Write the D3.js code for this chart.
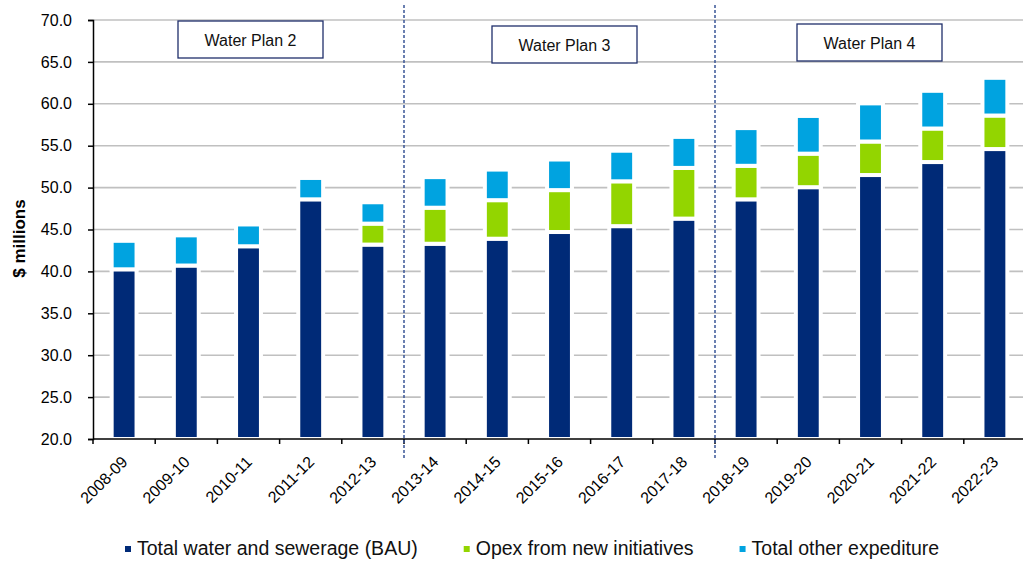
<!DOCTYPE html>
<html>
<head>
<meta charset="utf-8">
<script src="https://cdn.jsdelivr.net/npm/d3@7"></script>
<style>
  html, body { margin: 0; padding: 0; background: #fff; }
  svg { display: block; font-family: "Liberation Sans", Arial, sans-serif; }
</style>
</head>
<body>
<svg id="chart" width="1023" height="561"></svg>
<script>
// Financial years
const categories = ["2008-09", "2009-10", "2010-11", "2011-12", "2012-13",
  "2013-14", "2014-15", "2015-16", "2016-17", "2017-18",
  "2018-19", "2019-20", "2020-21", "2021-22", "2022-23"];

// $ millions per year, stacked bottom to top
const bauValues   = [40.25, 40.7, 43.0, 48.6, 43.2, 43.3, 43.9, 44.7, 45.4, 46.3, 48.6, 50.05, 51.5, 53.05, 54.6];
const opexValues  = [0, 0, 0, 0, 2.5, 4.3, 4.6, 5.0, 5.35, 6.05, 4.0, 4.0, 4.0, 4.0, 4.0];
const otherValues = [3.4, 3.6, 2.6, 2.55, 2.55, 3.65, 3.65, 3.65, 3.65, 3.7, 4.5, 4.5, 4.55, 4.5, 4.5];

const seriesNames = ["Total water and sewerage (BAU)", "Opex from new initiatives", "Total other expediture"];
const yTicks = [20, 25, 30, 35, 40, 45, 50, 55, 60, 65, 70];

// Planning periods: label, first year, last year
const planNames = ["Water Plan 2", "Water Plan 3", "Water Plan 4"];
const planFirst = ["2008-09", "2013-14", "2018-19"];
const planLast  = ["2012-13", "2017-18", "2022-23"];

const colors = ["#002A77", "#93D500", "#00A3E0"];

const svg = d3.select("#chart");
const plot = { left: 93, right: 1026, top: 20, bottom: 439 };

const x = d3.scaleBand().domain(categories).range([plot.left, plot.right])
  .paddingInner(0.6).paddingOuter(0.3);
// Axis starts at 20, so the stack base is clamped to the bottom of the plot
const y = d3.scaleLinear().domain([20, 70]).range([plot.bottom, plot.top]).clamp(true);
const halfGap = (x.step() - x.bandwidth()) / 2;

// Gridlines
svg.append("g").selectAll("line").data(yTicks.filter(t => t > 20)).join("line")
  .attr("x1", plot.left).attr("x2", plot.right)
  .attr("y1", d => y(d)).attr("y2", d => y(d))
  .attr("stroke", "#C0C0C0").attr("stroke-width", 1.6);

// Stack the three series
const rows = categories.map((c, i) => ({ cat: c, s0: bauValues[i], s1: opexValues[i], s2: otherValues[i] }));
const stacked = d3.stack().keys(["s0", "s1", "s2"])(rows);

svg.append("g").selectAll("g").data(stacked).join("g")
  .attr("fill", (d, i) => colors[i])
  .selectAll("rect").data(d => d.filter(p => p[1] - p[0] > 0)).join("rect")
  .attr("x", d => x(d.data.cat))
  .attr("width", x.bandwidth())
  .attr("y", d => y(d[1]))
  .attr("height", d => y(d[0]) - y(d[1]))
  .attr("stroke", "#fff").attr("stroke-width", 4);

// Y axis
const yAxis = d3.axisLeft(y).tickValues(yTicks).tickFormat(d3.format(".1f"))
  .tickSize(5).tickPadding(16);
const yg = svg.append("g").attr("transform", `translate(${plot.left},0)`).call(yAxis);
yg.select(".domain").attr("stroke", "#000").attr("stroke-width", 1.5);
yg.selectAll(".tick line").attr("stroke", "#000").attr("stroke-width", 1.5);
yg.selectAll(".tick text").attr("font-size", 16).attr("fill", "#000")
  .attr("font-family", "Liberation Sans, Arial, sans-serif");

// X axis line and boundary ticks
const xg = svg.append("g");
xg.append("line").attr("x1", plot.left).attr("x2", plot.right)
  .attr("y1", plot.bottom).attr("y2", plot.bottom)
  .attr("stroke", "#000").attr("stroke-width", 1.5);
xg.selectAll("line.tk").data(categories).join("line").attr("class", "tk")
  .attr("x1", d => x(d) - halfGap).attr("x2", d => x(d) - halfGap)
  .attr("y1", plot.bottom).attr("y2", plot.bottom + 5)
  .attr("stroke", "#000").attr("stroke-width", 1.5);
xg.selectAll("text").data(categories).join("text")
  .attr("transform", d => `translate(${x(d) + x.bandwidth() / 2 + 4.5},${plot.bottom + 24}) rotate(-45)`)
  .attr("text-anchor", "end").attr("font-size", 16).attr("fill", "#000")
  .text(d => d);

// Y axis title
svg.append("text")
  .attr("transform", `translate(25,${(plot.top + plot.bottom) / 2 + 9}) rotate(-90)`)
  .attr("text-anchor", "middle").attr("font-size", 17).attr("font-weight", "bold")
  .text("$ millions");

// Dashed dividers between planning periods
const dividers = planFirst.slice(1).map(c => x(c) - halfGap);
svg.append("g").selectAll("line").data(dividers).join("line")
  .attr("x1", d => d).attr("x2", d => d)
  .attr("y1", 5).attr("y2", 458)
  .attr("stroke", "#3A5597").attr("stroke-width", 1.5)
  .attr("stroke-dasharray", "3,2");

// Period label boxes
const boxW = 145, boxH = 37;
const boxTop = [21, 26, 24];
const boxShift = [2, 5, -1];
const boxes = svg.append("g").selectAll("g").data(planNames).join("g")
  .attr("transform", (d, i) => {
    const a = x(planFirst[i]), b = x(planLast[i]) + x.bandwidth();
    const cx = (a + b) / 2 + boxShift[i];
    return `translate(${cx - boxW / 2},${boxTop[i]})`;
  });
boxes.append("rect").attr("width", boxW).attr("height", boxH)
  .attr("fill", "#fff").attr("stroke", "#1F2E6B").attr("stroke-width", 1.3);
boxes.append("text").attr("x", boxW / 2).attr("y", boxH / 2 + 6)
  .attr("text-anchor", "middle").attr("font-size", 16).attr("fill", "#111")
  .text(d => d);

// Legend
const legend = svg.append("g").attr("transform", "translate(125,555)");
let lx = 0;
seriesNames.forEach((name, i) => {
  const g = legend.append("g").attr("transform", `translate(${lx},0)`);
  g.append("rect").attr("x", 0).attr("y", -9).attr("width", 6).attr("height", 6).attr("fill", colors[i]);
  const t = g.append("text").attr("x", 12).attr("y", 0).attr("font-size", 19.5).attr("fill", "#111").text(name);
  lx += 12 + t.node().getComputedTextLength() + 46;
});
</script>
</body>
</html>
